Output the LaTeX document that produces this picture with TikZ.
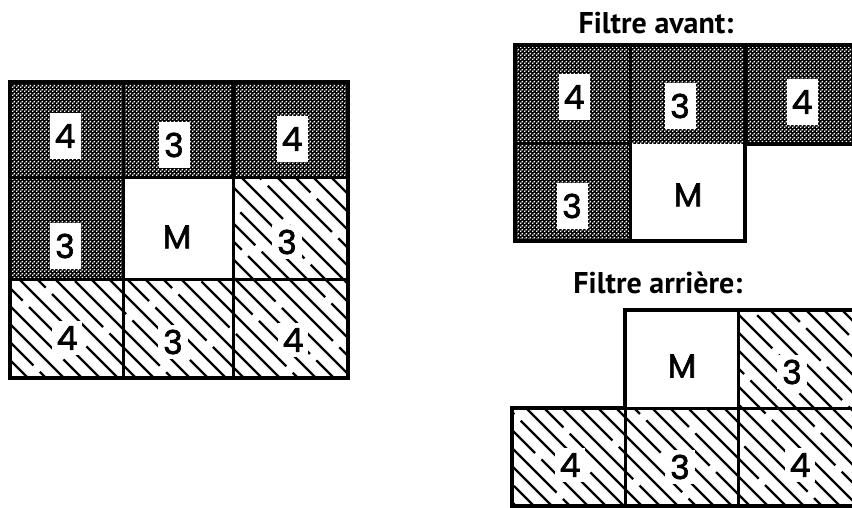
\documentclass[tikz,border=0pt]{standalone}
\usepackage{fontspec}
\newfontfamily\numfont[FakeBold=2]{Poppins}
\newfontfamily\titfont{PT Sans}
\usetikzlibrary{patterns}
\pgfdeclarepatternformonly{macdots}{\pgfqpoint{0pt}{0pt}}{\pgfqpoint{4pt}{4pt}}{\pgfqpoint{4pt}{4pt}}{%
  \pgfpathrectangle{\pgfqpoint{0pt}{0pt}}{\pgfqpoint{1.8pt}{1.8pt}}%
  \pgfpathrectangle{\pgfqpoint{2pt}{2pt}}{\pgfqpoint{1.8pt}{1.8pt}}%
  \pgfusepath{fill}}
\tikzset{
  darkcell/.style={fill=black},
  dotcell/.style={pattern=macdots, pattern color=white},
  gridline/.style={draw=black, line width=3pt, line join=miter},
  outerline/.style={draw=black, line width=3.6pt, line join=miter, line cap=rect},
  hatchline/.style={draw=black, line width=2.3pt},
  numtxt/.style={font=\numfont\fontsize{33}{35}\selectfont, inner sep=0pt},
  darklabel/.style={numtxt, fill=white, minimum width=31pt, minimum height=46pt},
  hatchlabel/.style={numtxt, fill=white, inner xsep=5pt, inner ysep=5pt},
  plainlabel/.style={numtxt},
  title/.style={font=\titfont\bfseries\fontsize{30}{34}\selectfont, inner sep=0pt}
}
\begin{document}
\begin{tikzpicture}[x=1pt, y=-1pt]
\useasboundingbox (0,0) rectangle (852,508);
\clip (0,0) rectangle (852,508);
\fill[white] (0,0) rectangle (852,508);

% ---------- dark (dotted) cells ----------
\foreach \a/\b/\c/\d in {10/82/348/178, 10/178/123/279,
                         515/45/862/144, 515/144/630/241}{
  \fill[darkcell] (\a,\b) rectangle (\c,\d);
  \fill[dotcell] (\a,\b) rectangle (\c,\d);
}

% ---------- hatched cells ----------
\begin{scope}
  \clip (233,178) rectangle (348,279)
        (10,279) rectangle (348,378)
        (738,310) rectangle (862,408)
        (512,408) rectangle (862,520);
  \foreach \c in {-512,-494,...,870}{
    \pgfmathsetmacro{\ph}{mod(abs(\c)*3.1,130)}
    \draw[hatchline, dash pattern=on 120pt off 9pt, dash phase=\ph pt] (\c,0) -- ++(520,520);
  }
\end{scope}

% ---------- titles ----------
\node[title] (tavant) at (656,23) {Filtre avant:};
\node[title] (tarriere) at (658,283) {Filtre arrière:};

% ---------- left grid labels ----------
\node[darklabel] (l11) at (65,136) {4};
\node[darklabel] (l12) at (174,145) {3};
\node[darklabel] (l13) at (292,139) {4};
\node[darklabel] (l21) at (65,246) {3};
\node[plainlabel] (l22) at (177,237) {M};
\node[hatchlabel] (l23) at (287,242) {3};
\node[hatchlabel] (l31) at (67,338) {4};
\node[hatchlabel] (l32) at (173,342) {3};
\node[hatchlabel] (l33) at (293,340) {4};

% ---------- avant labels ----------
\node[darklabel] (a11) at (574,97) {4};
\node[darklabel] (a12) at (680,106) {3};
\node[darklabel] (a13) at (802,102) {4};
\node[darklabel] (a21) at (572,206) {3};
\node[plainlabel] (a22) at (688,195) {M};

% ---------- arriere labels ----------
\node[plainlabel] (r12) at (682,366) {M};
\node[hatchlabel] (r13) at (792,372) {3};
\node[hatchlabel] (r21) at (570,465) {4};
\node[hatchlabel] (r22) at (680,467) {3};
\node[hatchlabel] (r23) at (800,465) {4};

% ---------- grid lines: left ----------
\draw[gridline] (123,82) -- (123,378) (233,82) -- (233,378)
                (10,178) -- (348,178) (10,279) -- (348,279);
\draw[outerline] (10,82) rectangle (348,378);

% ---------- grid lines: avant ----------
\draw[gridline] (630,45) -- (630,241) (745,45) -- (745,144)
                (515,144) -- (630,144);
\draw[outerline] (862,45) -- (515,45) -- (515,241) -- (745,241) -- (745,144) -- (862,144);

% ---------- grid lines: arriere ----------
\draw[gridline] (738,310) -- (738,506) (625,408) -- (625,506)
                (625,408) -- (862,408);
\draw[outerline] (512,408) -- (625,408) -- (625,310) -- (862,310);
\draw[outerline] (862,506) -- (512,506) -- (512,408);
\end{tikzpicture}
\end{document}
